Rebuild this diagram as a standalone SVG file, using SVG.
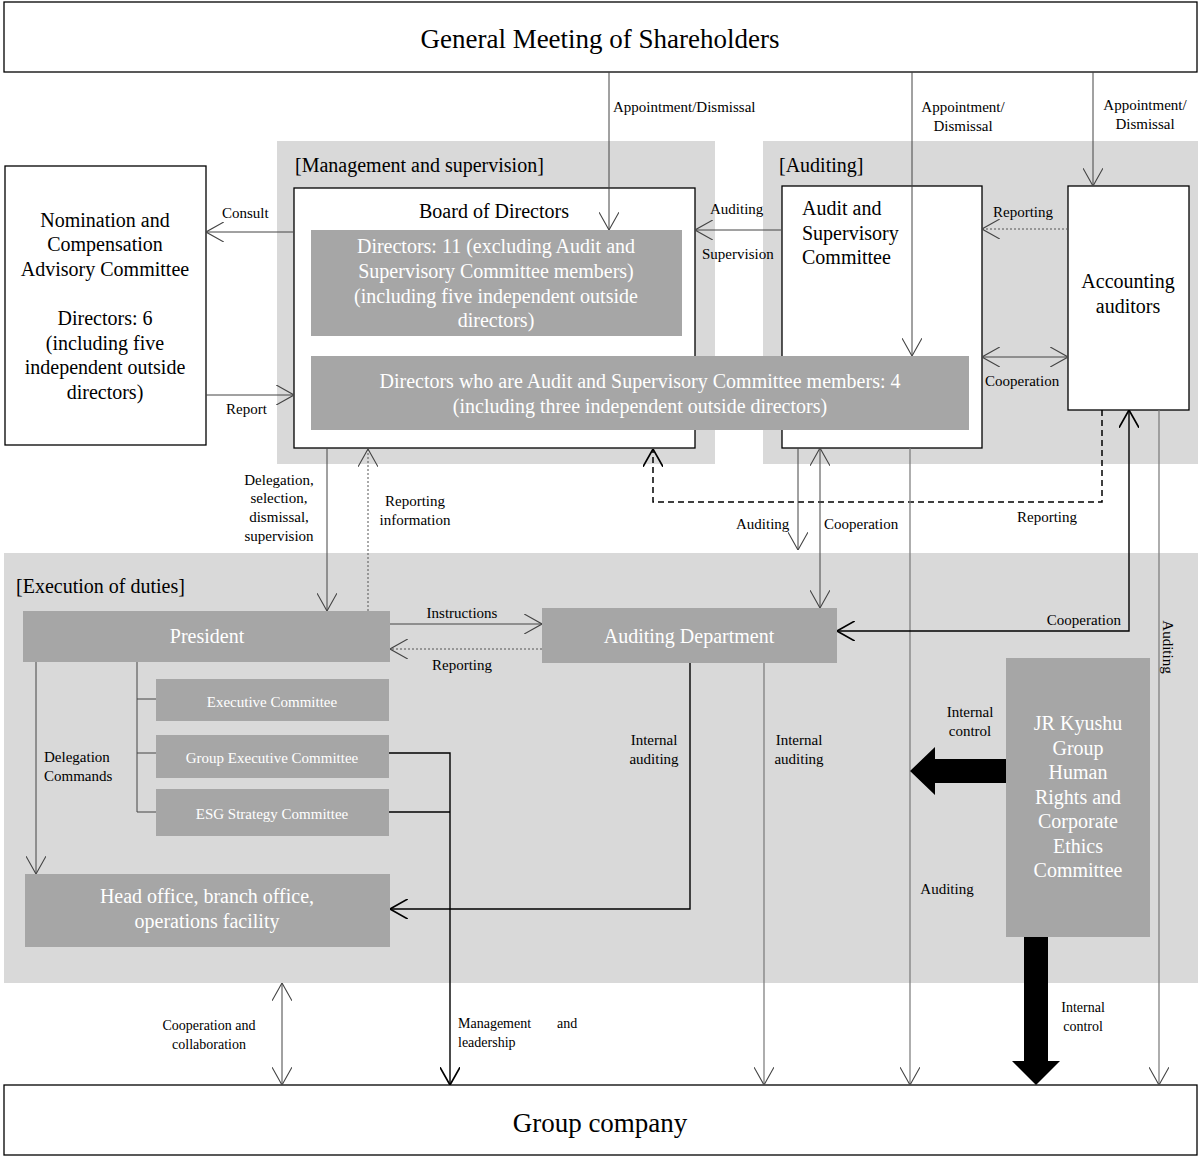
<svg xmlns="http://www.w3.org/2000/svg" width="1198" height="1157" viewBox="0 0 1198 1157">
<style>
text{font-family:"Liberation Serif","Times New Roman",serif;fill:#000}
.big{font-size:27px}
.t20{font-size:20px}
.w20{font-size:20px;fill:#fff}
.w15{font-size:15px;fill:#fff}
.lb{font-size:15px}
.lc{font-size:14px}
.m{text-anchor:middle}
.e{text-anchor:end}
.panel{fill:#d9d9d9}
.box{fill:#fff;stroke:#000;stroke-width:1.3}
.gbox{fill:#a6a6a6}
.ln{fill:none;stroke:#444;stroke-width:1}
.gl{fill:none;stroke:#777;stroke-width:1.2}
.bk{fill:none;stroke:#000;stroke-width:1.4}
.dot{fill:none;stroke:#555;stroke-width:1;stroke-dasharray:2 2}
.dash{fill:none;stroke:#000;stroke-width:1.5;stroke-dasharray:6 4}
</style>
<defs>
<marker id="a" markerUnits="userSpaceOnUse" markerWidth="18" markerHeight="20" viewBox="0 0 16 18" refX="16" refY="9" orient="auto-start-reverse"><path d="M0,0 L16,9 L0,18" fill="none" stroke="#444" stroke-width="1"/></marker>
<marker id="b" markerUnits="userSpaceOnUse" markerWidth="18" markerHeight="20" viewBox="0 0 16 18" refX="16" refY="9" orient="auto-start-reverse"><path d="M0,0 L16,9 L0,18" fill="none" stroke="#000" stroke-width="1.5"/></marker>
</defs>

<g id="panels">
<rect class="panel" x="277" y="141" width="438" height="323"/>
<rect class="panel" x="763" y="141" width="435" height="323"/>
<rect class="panel" x="4" y="553" width="1194" height="430"/>
<text class="t20" x="295" y="172">[Management and supervision]</text>
<text class="t20" x="779" y="172">[Auditing]</text>
<text class="t20" x="16" y="593">[Execution of duties]</text>
</g>

<g id="gms">
<rect class="box" x="4" y="2" width="1193" height="70"/>
<text class="big m" x="600" y="48">General Meeting of Shareholders</text>
</g>

<g id="nomination">
<rect class="box" x="5" y="166" width="201" height="279"/>
<text class="t20 m" x="105" y="227">Nomination and</text>
<text class="t20 m" x="105" y="251">Compensation</text>
<text class="t20 m" x="105" y="276">Advisory Committee</text>
<text class="t20 m" x="105" y="325">Directors: 6</text>
<text class="t20 m" x="105" y="350">(including five</text>
<text class="t20 m" x="105" y="374">independent outside</text>
<text class="t20 m" x="105" y="399">directors)</text>
</g>

<g id="board">
<rect class="box" x="294" y="188" width="401" height="260"/>
<text class="t20 m" x="494" y="218">Board of Directors</text>
</g>

<g id="directors11">
<rect class="gbox" x="311" y="230" width="371" height="106"/>
<text class="w20 m" x="496" y="253">Directors: 11 (excluding Audit and</text>
<text class="w20 m" x="496" y="278">Supervisory Committee members)</text>
<text class="w20 m" x="496" y="303">(including five independent outside</text>
<text class="w20 m" x="496" y="327">directors)</text>
</g>

<g id="asc">
<rect class="box" x="782" y="186" width="200" height="262"/>
<text class="t20" x="802" y="215">Audit and</text>
<text class="t20" x="802" y="240">Supervisory</text>
<text class="t20" x="802" y="264">Committee</text>
</g>

<g id="directors4">
<rect class="gbox" x="311" y="356" width="658" height="74"/>
<text class="w20 m" x="640" y="388">Directors who are Audit and Supervisory Committee members: 4</text>
<text class="w20 m" x="640" y="413">(including three independent outside directors)</text>
</g>

<g id="accounting">
<rect class="box" x="1068" y="186" width="121" height="224"/>
<text class="t20 m" x="1128" y="288">Accounting</text>
<text class="t20 m" x="1128" y="313">auditors</text>
</g>

<g id="president">
<rect class="gbox" x="23" y="611" width="367" height="51"/>
<text class="w20 m" x="207" y="643">President</text>
</g>

<g id="auditdept">
<rect class="gbox" x="542" y="608" width="295" height="55"/>
<text class="w20 m" x="689" y="643">Auditing Department</text>
</g>

<g id="execcom">
<rect class="gbox" x="156" y="679" width="233" height="42"/>
<text class="w15 m" x="272" y="707">Executive Committee</text>
</g>
<g id="groupexec">
<rect class="gbox" x="156" y="735" width="233" height="43"/>
<text class="w15 m" x="272" y="763">Group Executive Committee</text>
</g>
<g id="esg">
<rect class="gbox" x="156" y="789" width="233" height="47"/>
<text class="w15 m" x="272" y="819">ESG Strategy Committee</text>
</g>

<g id="headoffice">
<rect class="gbox" x="25" y="874" width="365" height="73"/>
<text class="w20 m" x="207" y="903">Head office, branch office,</text>
<text class="w20 m" x="207" y="928">operations facility</text>
</g>

<g id="ethics">
<rect class="gbox" x="1006" y="658" width="144" height="279"/>
<text class="w20 m" x="1078" y="730">JR Kyushu</text>
<text class="w20 m" x="1078" y="755">Group</text>
<text class="w20 m" x="1078" y="779">Human</text>
<text class="w20 m" x="1078" y="804">Rights and</text>
<text class="w20 m" x="1078" y="828">Corporate</text>
<text class="w20 m" x="1078" y="853">Ethics</text>
<text class="w20 m" x="1078" y="877">Committee</text>
</g>

<g id="group">
<rect class="box" x="4" y="1085" width="1193" height="70"/>
<text class="big m" x="600" y="1132">Group company</text>
</g>

<g id="connectors">
<path class="ln" d="M609,72 V230" marker-end="url(#a)"/>
<path class="ln" d="M912,72 V356" marker-end="url(#a)"/>
<path class="ln" d="M1093,72 V186" marker-end="url(#a)"/>
<path class="ln" d="M293,232 H206" marker-end="url(#a)"/>
<path class="ln" d="M206,395 H294" marker-end="url(#a)"/>
<path class="ln" d="M781,230 H695" marker-end="url(#a)"/>
<path class="dot" d="M1068,229 H982" marker-end="url(#a)"/>
<path class="ln" d="M982,357 H1068" marker-start="url(#a)" marker-end="url(#a)"/>
<path class="ln" d="M327,448 V611" marker-end="url(#a)"/>
<path class="dot" d="M368,611 V449" marker-end="url(#a)"/>
<path class="dash" d="M1102,410 V502 H653 V449" marker-end="url(#b)"/>
<path class="ln" d="M798,448 V550" marker-end="url(#a)"/>
<path class="ln" d="M820,448 V608" marker-start="url(#a)" marker-end="url(#a)"/>
<path class="gl" d="M910,448 V1085" marker-end="url(#a)"/>
<path class="bk" d="M1129,410 V631 H837" marker-start="url(#b)" marker-end="url(#b)"/>
<path class="gl" d="M1159,410 V1085" marker-end="url(#a)"/>
<path class="ln" d="M390,624 H542" marker-end="url(#a)"/>
<path class="dot" d="M542,649 H390" marker-end="url(#a)"/>
<path class="ln" d="M137,662 V812 M137,699 H156 M137,753 H156 M137,812 H156"/>
<path class="ln" d="M36,662 V874" marker-end="url(#a)"/>
<path class="bk" d="M389,812 H450"/>
<path class="bk" d="M389,753 H450 V1085" marker-end="url(#b)"/>
<path class="bk" d="M690,663 V909 H390" marker-end="url(#b)"/>
<path class="gl" d="M764,663 V1085" marker-end="url(#a)"/>
<path class="ln" d="M282,983 V1085" marker-start="url(#a)" marker-end="url(#a)"/>
<polygon points="1006,759 935,759 935,747 910,771 935,795 935,783 1006,783" fill="#000"/>
<polygon points="1024,937 1048,937 1048,1061 1060,1061 1036,1085 1012,1061 1024,1061" fill="#000"/>
</g>

<g id="labels">
<text class="lb" x="613" y="112">Appointment/Dismissal</text>
<text class="lb m" x="963" y="112">Appointment/</text>
<text class="lb m" x="963" y="131">Dismissal</text>
<text class="lb m" x="1145" y="110">Appointment/</text>
<text class="lb m" x="1145" y="129">Dismissal</text>
<text class="lb" x="222" y="218">Consult</text>
<text class="lb" x="226" y="414">Report</text>
<text class="lb" x="710" y="214">Auditing</text>
<text class="lb" x="702" y="259">Supervision</text>
<text class="lb" x="993" y="217">Reporting</text>
<text class="lb" x="985" y="386">Cooperation</text>
<text class="lb m" x="279" y="485">Delegation,</text>
<text class="lb m" x="279" y="503">selection,</text>
<text class="lb m" x="279" y="522">dismissal,</text>
<text class="lb m" x="279" y="541">supervision</text>
<text class="lb m" x="415" y="506">Reporting</text>
<text class="lb m" x="415" y="525">information</text>
<text class="lb" x="736" y="529">Auditing</text>
<text class="lb" x="824" y="529">Cooperation</text>
<text class="lb m" x="1047" y="522">Reporting</text>
<text class="lb e" x="1121" y="625">Cooperation</text>
<text class="lb m" x="462" y="618">Instructions</text>
<text class="lb m" x="462" y="670">Reporting</text>
<text class="lb" x="44" y="762">Delegation</text>
<text class="lb" x="44" y="781">Commands</text>
<text class="lb m" x="654" y="745">Internal</text>
<text class="lb m" x="654" y="764">auditing</text>
<text class="lb m" x="799" y="745">Internal</text>
<text class="lb m" x="799" y="764">auditing</text>
<text class="lb m" x="970" y="717">Internal</text>
<text class="lb m" x="970" y="736">control</text>
<text class="lb m" x="947" y="894">Auditing</text>
<text class="lc m" x="1083" y="1012">Internal</text>
<text class="lc m" x="1083" y="1031">control</text>
<text class="lc m" x="209" y="1030">Cooperation and</text>
<text class="lc m" x="209" y="1049">collaboration</text>
<text class="lc" x="458" y="1028">Management</text>
<text class="lc" x="557" y="1028">and</text>
<text class="lc" x="458" y="1047">leadership</text>
<text class="lb m" transform="translate(1163,647) rotate(90)">Auditing</text>
</g>
</svg>
